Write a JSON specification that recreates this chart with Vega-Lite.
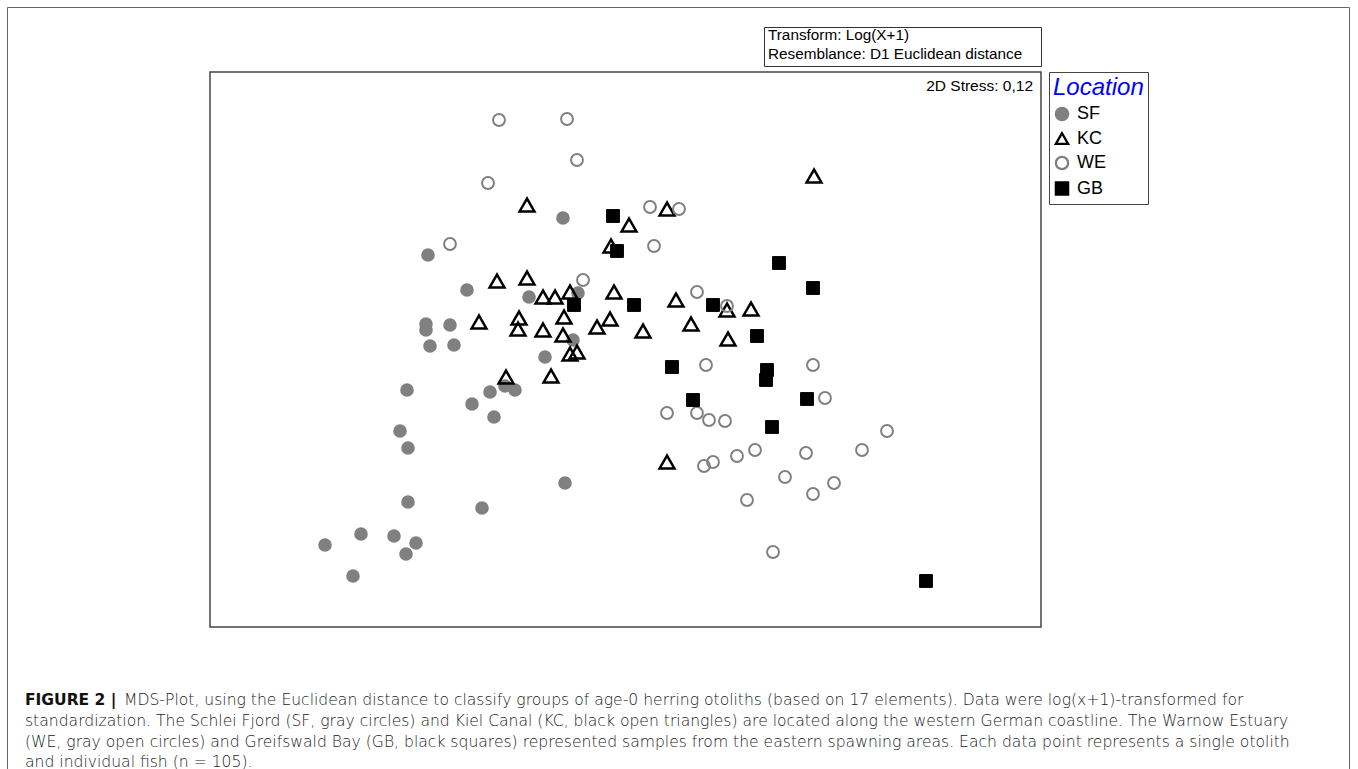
{
  "$schema": "https://vega.github.io/schema/vega-lite/v6.json",
  "width": 831,
  "height": 555,
  "autosize": {"type": "none"},
  "padding": {"left": 210, "top": 72, "right": 317, "bottom": 142},
  "background": "white",
  "config": {"view": {"stroke": "#444", "strokeWidth": 1.5}},
  "datasets": {
    "frame": [{"x": -6.175, "x2": 7.245, "y": 3.425, "y2": -4.3}],
    "tbox": [{"x": 1.395, "x2": 4.165, "y": 3.225, "y2": 2.835}],
    "stress": [{"x": 4.08, "y": 2.64, "label": "2D Stress: 0,12"}],
    "transform": [
      {"x": 1.43, "y": 3.15, "label": "Transform: Log(X+1)"},
      {"x": 1.43, "y": 2.96, "label": "Resemblance: D1 Euclidean distance"}
    ],
    "capbold": [{"x": -6.0, "y": -3.5, "label": "FIGURE 2 |"}],
    "caption": [
      {"x": -5.01, "y": -3.5, "label": "MDS-Plot, using the Euclidean distance to classify groups of age-0 herring otoliths (based on 17 elements). Data were log(x+1)-transformed for"},
      {"x": -6.0, "y": -3.71, "label": "standardization. The Schlei Fjord (SF, gray circles) and Kiel Canal (KC, black open triangles) are located along the western German coastline. The Warnow Estuary"},
      {"x": -6.0, "y": -3.915, "label": "(WE, gray open circles) and Greifswald Bay (GB, black squares) represented samples from the eastern spawning areas. Each data point represents a single otolith"},
      {"x": -6.0, "y": -4.115, "label": "and individual fish (n = 105)."}
    ],
    "mds": [
      {"loc": "SF", "x": -1.97, "y": 0.95},
      {"loc": "SF", "x": -0.62, "y": 1.32},
      {"loc": "SF", "x": -1.58, "y": 0.60},
      {"loc": "SF", "x": -0.96, "y": 0.53},
      {"loc": "SF", "x": -0.47, "y": 0.57},
      {"loc": "SF", "x": -1.99, "y": 0.26},
      {"loc": "SF", "x": -1.99, "y": 0.20},
      {"loc": "SF", "x": -1.75, "y": 0.25},
      {"loc": "SF", "x": -1.95, "y": 0.04},
      {"loc": "SF", "x": -1.71, "y": 0.05},
      {"loc": "SF", "x": -0.52, "y": 0.10},
      {"loc": "SF", "x": -0.80, "y": -0.07},
      {"loc": "SF", "x": -1.20, "y": -0.36},
      {"loc": "SF", "x": -1.10, "y": -0.40},
      {"loc": "SF", "x": -1.35, "y": -0.42},
      {"loc": "SF", "x": -2.18, "y": -0.40},
      {"loc": "SF", "x": -1.53, "y": -0.54},
      {"loc": "SF", "x": -1.31, "y": -0.67},
      {"loc": "SF", "x": -2.25, "y": -0.81},
      {"loc": "SF", "x": -2.17, "y": -0.98},
      {"loc": "SF", "x": -0.60, "y": -1.33},
      {"loc": "SF", "x": -2.17, "y": -1.52},
      {"loc": "SF", "x": -1.43, "y": -1.58},
      {"loc": "SF", "x": -2.64, "y": -1.84},
      {"loc": "SF", "x": -2.31, "y": -1.86},
      {"loc": "SF", "x": -2.09, "y": -1.93},
      {"loc": "SF", "x": -3.00, "y": -1.95},
      {"loc": "SF", "x": -2.19, "y": -2.04},
      {"loc": "SF", "x": -2.72, "y": -2.26},
      {"loc": "KC", "x": -0.98, "y": 1.45},
      {"loc": "KC", "x": 0.04, "y": 1.25},
      {"loc": "KC", "x": 0.42, "y": 1.41},
      {"loc": "KC", "x": -0.14, "y": 1.04},
      {"loc": "KC", "x": 1.89, "y": 1.74},
      {"loc": "KC", "x": -1.28, "y": 0.69},
      {"loc": "KC", "x": -0.98, "y": 0.72},
      {"loc": "KC", "x": -0.82, "y": 0.53},
      {"loc": "KC", "x": -0.70, "y": 0.53},
      {"loc": "KC", "x": -0.55, "y": 0.58},
      {"loc": "KC", "x": -0.11, "y": 0.58},
      {"loc": "KC", "x": 0.51, "y": 0.50},
      {"loc": "KC", "x": 1.02, "y": 0.40},
      {"loc": "KC", "x": 1.26, "y": 0.41},
      {"loc": "KC", "x": -1.46, "y": 0.28},
      {"loc": "KC", "x": -1.06, "y": 0.32},
      {"loc": "KC", "x": -1.07, "y": 0.21},
      {"loc": "KC", "x": -0.82, "y": 0.20},
      {"loc": "KC", "x": -0.61, "y": 0.33},
      {"loc": "KC", "x": -0.62, "y": 0.15},
      {"loc": "KC", "x": -0.28, "y": 0.23},
      {"loc": "KC", "x": -0.15, "y": 0.31},
      {"loc": "KC", "x": 0.18, "y": 0.19},
      {"loc": "KC", "x": 0.66, "y": 0.26},
      {"loc": "KC", "x": 1.03, "y": 0.11},
      {"loc": "KC", "x": -0.55, "y": -0.04},
      {"loc": "KC", "x": -0.48, "y": -0.02},
      {"loc": "KC", "x": -1.19, "y": -0.27},
      {"loc": "KC", "x": -0.74, "y": -0.26},
      {"loc": "KC", "x": 0.42, "y": -1.12},
      {"loc": "WE", "x": -1.26, "y": 2.30},
      {"loc": "WE", "x": -0.58, "y": 2.31},
      {"loc": "WE", "x": -0.48, "y": 1.90},
      {"loc": "WE", "x": -1.37, "y": 1.67},
      {"loc": "WE", "x": 0.25, "y": 1.43},
      {"loc": "WE", "x": 0.54, "y": 1.41},
      {"loc": "WE", "x": -1.75, "y": 1.06},
      {"loc": "WE", "x": 0.29, "y": 1.04},
      {"loc": "WE", "x": -0.42, "y": 0.70},
      {"loc": "WE", "x": 0.72, "y": 0.58},
      {"loc": "WE", "x": 1.02, "y": 0.44},
      {"loc": "WE", "x": 0.81, "y": -0.15},
      {"loc": "WE", "x": 1.88, "y": -0.15},
      {"loc": "WE", "x": 2.00, "y": -0.48},
      {"loc": "WE", "x": 0.42, "y": -0.63},
      {"loc": "WE", "x": 0.72, "y": -0.63},
      {"loc": "WE", "x": 0.84, "y": -0.70},
      {"loc": "WE", "x": 1.00, "y": -0.71},
      {"loc": "WE", "x": 2.62, "y": -0.81},
      {"loc": "WE", "x": 1.30, "y": -1.00},
      {"loc": "WE", "x": 1.81, "y": -1.03},
      {"loc": "WE", "x": 2.37, "y": -1.00},
      {"loc": "WE", "x": 1.12, "y": -1.06},
      {"loc": "WE", "x": 0.88, "y": -1.12},
      {"loc": "WE", "x": 0.79, "y": -1.16},
      {"loc": "WE", "x": 1.60, "y": -1.27},
      {"loc": "WE", "x": 2.09, "y": -1.33},
      {"loc": "WE", "x": 1.88, "y": -1.44},
      {"loc": "WE", "x": 1.22, "y": -1.50},
      {"loc": "WE", "x": 1.48, "y": -2.02},
      {"loc": "GB", "x": -0.12, "y": 1.34},
      {"loc": "GB", "x": -0.08, "y": 0.99},
      {"loc": "GB", "x": -0.51, "y": 0.45},
      {"loc": "GB", "x": 0.09, "y": 0.45},
      {"loc": "GB", "x": 0.88, "y": 0.45},
      {"loc": "GB", "x": 1.54, "y": 0.87},
      {"loc": "GB", "x": 1.88, "y": 0.62},
      {"loc": "GB", "x": 1.32, "y": 0.14},
      {"loc": "GB", "x": 0.47, "y": -0.17},
      {"loc": "GB", "x": 1.42, "y": -0.20},
      {"loc": "GB", "x": 1.41, "y": -0.30},
      {"loc": "GB", "x": 0.68, "y": -0.50},
      {"loc": "GB", "x": 1.82, "y": -0.49},
      {"loc": "GB", "x": 1.47, "y": -0.77},
      {"loc": "GB", "x": 3.01, "y": -2.31}
    ]
  },
  "encoding": {
    "x": {"field": "x", "type": "quantitative", "scale": {"domain": [-4.15, 4.16], "nice": false, "zero": false}, "axis": null},
    "y": {"field": "y", "type": "quantitative", "scale": {"domain": [-2.77, 2.78], "nice": false, "zero": false}, "axis": null}
  },
  "layer": [
    {
      "data": {"name": "frame"},
      "mark": {"type": "rect", "fill": null, "stroke": "#666", "strokeWidth": 1},
      "encoding": {"x2": {"field": "x2"}, "y2": {"field": "y2"}}
    },
    {
      "data": {"name": "tbox"},
      "mark": {"type": "rect", "fill": null, "stroke": "#333", "strokeWidth": 1},
      "encoding": {"x2": {"field": "x2"}, "y2": {"field": "y2"}}
    },
    {
      "data": {"name": "mds"},
      "encoding": {
        "shape": {
          "field": "loc", "type": "nominal", "title": "Location",
          "scale": {"domain": ["SF", "KC", "WE", "GB"], "range": ["circle", "triangle-up", "circle", "square"]},
          "legend": {"title": "Location", "titleFont": "Liberation Sans", "titleFontSize": 24, "titleFontStyle": "italic", "titleFontWeight": "normal", "titleColor": "#0000ff", "titlePadding": 5, "labelFont": "Liberation Sans", "labelFontSize": 18, "labelColor": "#000", "strokeColor": "#444", "padding": 4, "rowPadding": 3.5, "symbolSize": 150, "symbolStrokeWidth": 2.3, "labelOffset": 6, "offset": 8}
        },
        "fill": {
          "field": "loc", "type": "nominal", "title": "Location",
          "scale": {"domain": ["SF", "KC", "WE", "GB"], "range": ["#808080", "transparent", "transparent", "#000000"]}
        },
        "stroke": {
          "field": "loc", "type": "nominal", "title": "Location",
          "scale": {"domain": ["SF", "KC", "WE", "GB"], "range": ["#808080", "#000000", "#808080", "#000000"]}
        }
      },
      "layer": [
        {
          "transform": [{"filter": {"field": "loc", "equal": "SF"}}],
          "mark": {"type": "point", "filled": true, "strokeWidth": 2, "size": 135, "opacity": 1}
        },
        {
          "transform": [{"filter": {"field": "loc", "equal": "KC"}}],
          "mark": {"type": "point", "filled": true, "strokeWidth": 2.5, "size": 220, "opacity": 1}
        },
        {
          "transform": [{"filter": {"field": "loc", "equal": "WE"}}],
          "mark": {"type": "point", "filled": true, "strokeWidth": 2, "size": 140, "opacity": 1}
        },
        {
          "transform": [{"filter": {"field": "loc", "equal": "GB"}}],
          "mark": {"type": "point", "filled": true, "strokeWidth": 1, "size": 165, "opacity": 1}
        }
      ]
    },
    {
      "data": {"name": "stress"},
      "mark": {"type": "text", "align": "right", "baseline": "middle", "font": "Liberation Sans", "fontSize": 15.5, "color": "#000"},
      "encoding": {"text": {"field": "label"}}
    },
    {
      "data": {"name": "transform"},
      "mark": {"type": "text", "align": "left", "baseline": "middle", "font": "Liberation Sans", "fontSize": 15.3, "color": "#000"},
      "encoding": {"text": {"field": "label"}}
    },
    {
      "data": {"name": "capbold"},
      "mark": {"type": "text", "align": "left", "baseline": "middle", "font": "DejaVu Sans", "fontWeight": "bold", "fontSize": 15.5, "color": "#111"},
      "encoding": {"text": {"field": "label"}}
    },
    {
      "data": {"name": "caption"},
      "mark": {"type": "text", "align": "left", "baseline": "middle", "font": "DejaVu Sans", "fontWeight": 300, "fontSize": 15.6, "color": "#222"},
      "encoding": {"text": {"field": "label"}}
    }
  ]
}
